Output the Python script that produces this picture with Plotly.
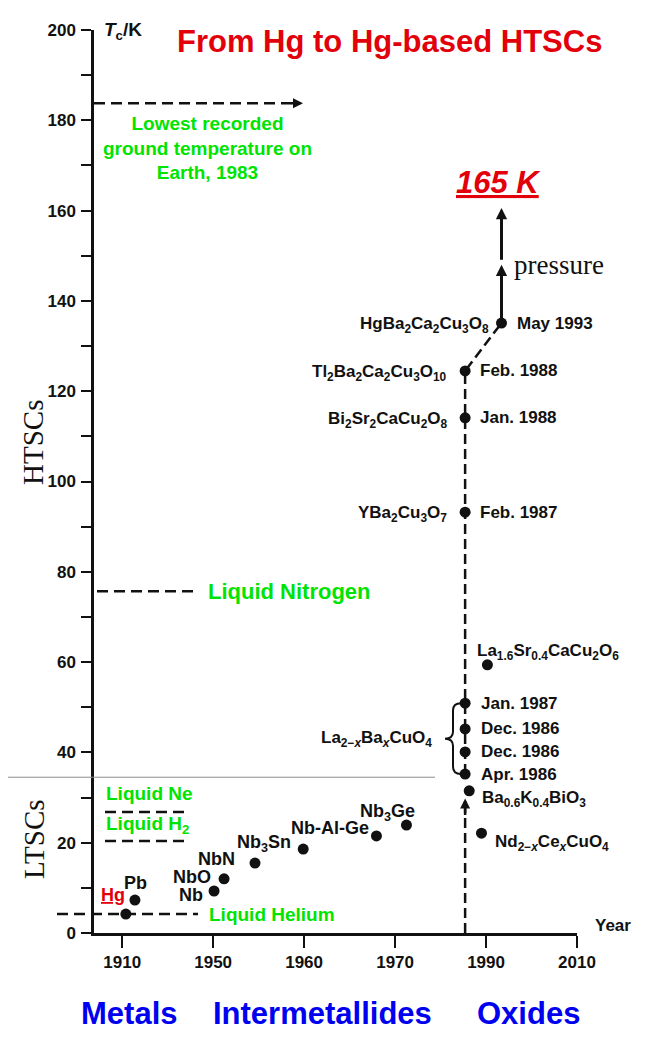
import plotly.graph_objects as go

# ---------------- data ----------------
metal_names = ["Hg", "Pb", "Nb", "NbO", "NbN", "Nb<sub>3</sub>Sn", "Nb-Al-Ge", "Nb<sub>3</sub>Ge"]
metal_year = [1910.8, 1912.8, 1930.2, 1932.4, 1939.2, 1949.8, 1965.9, 1972.5]
metal_tc = [4.2, 7.3, 9.3, 12.0, 15.5, 18.6, 21.5, 23.9]

la_formula = "La<sub>2\u2212<i>x</i></sub>Ba<sub><i>x</i></sub>CuO<sub>4</sub>"
la_dates = ["Apr. 1986", "Dec. 1986", "Dec. 1986", "Jan. 1987"]
la_year = [1985.4, 1985.4, 1985.4, 1985.4]
la_tc = [35.2, 40.1, 45.2, 50.9]

htsc_names = ["YBa<sub>2</sub>Cu<sub>3</sub>O<sub>7</sub>",
              "Bi<sub>2</sub>Sr<sub>2</sub>CaCu<sub>2</sub>O<sub>8</sub>",
              "Tl<sub>2</sub>Ba<sub>2</sub>Ca<sub>2</sub>Cu<sub>3</sub>O<sub>10</sub>",
              "HgBa<sub>2</sub>Ca<sub>2</sub>Cu<sub>3</sub>O<sub>8</sub>"]
htsc_dates = ["Feb. 1987", "Jan. 1988", "Feb. 1988", "May 1993"]
htsc_year = [1985.4, 1985.4, 1985.4, 1993.4]
htsc_tc = [93.2, 114.1, 124.5, 135.1]

other_names = ["Ba<sub>0.6</sub>K<sub>0.4</sub>BiO<sub>3</sub>",
               "Nd<sub>2\u2212<i>x</i></sub>Ce<sub><i>x</i></sub>CuO<sub>4</sub>",
               "La<sub>1.6</sub>Sr<sub>0.4</sub>CaCu<sub>2</sub>O<sub>6</sub>"]
other_year = [1986.3, 1989.0, 1990.3]
other_tc = [31.5, 22.1, 59.4]

ref_names = ["Lowest recorded<br>ground temperature on<br>Earth, 1983",
             "Liquid Nitrogen", "Liquid Ne", "Liquid H<sub>2</sub>", "Liquid Helium"]
ref_tc = [183.8, 75.7, 26.8, 20.4, 4.2]

pressure_tc = [148.0, 160.6]
record_label = "165 K"
oxide_arrow_tc = 29.8

year_ticks = [1910, 1930, 1950, 1970, 1990, 2010]
year_labels = ["1910", "1950", "1960", "1970", "1990", "2010"]
tc_ticks = list(range(0, 201, 20))
tc_range = [0, 200]
year_range = [1903.8, 2010]

classes = ["Metals", "Intermetallides", "Oxides"]

# ---------------- style ----------------
BODY = 8                      # default page margin of the html body
W, H = 655 - BODY, 1064 - BODY
PL, PR, PT, PB = 94, 577, 30, 933   # plot area in page pixels
ML, MT = PL - BODY, PT - BODY
MR, MB = W - (PR - BODY), H - (PB - BODY)
PW, PH = PR - PL, PB - PT
SANS = "Liberation Sans, Arial, sans-serif"
SERIF = "Liberation Serif, Times New Roman, serif"
RED = "#e2000a"
GREEN = "#00e400"
BLUE = "#0000f0"
BLACK = "#111111"


def px_paper(px):
    return (px - PL) / PW


def py_paper(py):
    return (PB - py) / PH


def px_year(px):
    return year_range[0] + (px - PL) * (year_range[1] - year_range[0]) / PW


fig = go.Figure()

# dashed evolution line through the oxides
fig.add_trace(go.Scatter(
    x=[la_year[0], htsc_year[2], htsc_year[3]],
    y=[la_tc[0], htsc_tc[2], htsc_tc[3]],
    mode="lines", line=dict(color=BLACK, width=2.5, dash="10px,5px"),
    hoverinfo="skip", showlegend=False))
fig.add_trace(go.Scatter(
    x=[la_year[0], la_year[0]], y=[tc_range[0], oxide_arrow_tc - 2],
    mode="lines", line=dict(color=BLACK, width=2.5, dash="10px,5px"),
    hoverinfo="skip", showlegend=False))

# all points
all_x = metal_year + la_year + htsc_year + other_year
all_y = metal_tc + la_tc + htsc_tc + other_tc
fig.add_trace(go.Scatter(
    x=all_x, y=all_y, mode="markers",
    marker=dict(color=BLACK, size=11), cliponaxis=False,
    hoverinfo="skip", showlegend=False))

shapes = []
ann = []

# reference (cryogen) dashed lines
ref_ext = [(PL, 292), (97, 193), (105, 185), (105, 185), (57, 198)]
for (a, b), tc in zip(ref_ext, ref_tc):
    shapes.append(dict(type="line", xref="paper", yref="y",
                       x0=px_paper(a), x1=px_paper(b), y0=tc, y1=tc,
                       line=dict(color=BLACK, width=2.5, dash="11px,6px")))
# arrowhead on the 184 K line
ann.append(dict(x=px_year(303), y=ref_tc[0], ax=px_year(290), ay=ref_tc[0],
                xref="x", yref="y", axref="x", ayref="y", text="",
                showarrow=True, arrowhead=2, arrowsize=0.8, arrowwidth=2.5,
                arrowcolor=BLACK, standoff=0))

# separator LTSC / HTSC
shapes.append(dict(type="line", xref="paper", yref="y",
                   x0=px_paper(0), x1=px_paper(435), y0=34.5, y1=34.5,
                   line=dict(color="#8c8c8c", width=1)))

# brace for La2-xBaxCuO4
r, m, l = px_year(461), px_year(453), px_year(445)
top, bot = la_tc[-1], la_tc[0]
mid = (top + bot) / 2
c = 1.6
shapes.append(dict(
    type="path", xref="x", yref="y",
    path=(f"M {r},{top} Q {m},{top} {m},{top - c} L {m},{mid + c} "
          f"Q {m},{mid} {l},{mid} Q {m},{mid} {m},{mid - c} "
          f"L {m},{bot + c} Q {m},{bot} {r},{bot}"),
    line=dict(color=BLACK, width=2)))

# green cryogen labels
green = dict(family=SANS, color=GREEN, weight="bold")
ann.append(dict(x=px_paper(207), y=173.9, xref="paper", yref="y",
                text=ref_names[0], showarrow=False, align="center",
                xanchor="center", yanchor="middle",
                font=dict(size=19, **green)))
ann.append(dict(x=px_paper(206), y=ref_tc[1], xref="paper", yref="y",
                text=ref_names[1], showarrow=False, xanchor="left", yanchor="middle",
                font=dict(size=22, **green)))
ann.append(dict(x=px_paper(104), y=ref_tc[2], xref="paper", yref="y", yshift=19,
                text=ref_names[2], showarrow=False, xanchor="left", yanchor="middle",
                font=dict(size=19, **green)))
ann.append(dict(x=px_paper(104), y=ref_tc[3], xref="paper", yref="y", yshift=16,
                text=ref_names[3], showarrow=False, xanchor="left", yanchor="middle",
                font=dict(size=19, **green)))
ann.append(dict(x=px_paper(207), y=ref_tc[4], xref="paper", yref="y",
                text=ref_names[4], showarrow=False, xanchor="left", yanchor="middle",
                font=dict(size=19, **green)))

# metal / intermetallic labels
blk = dict(family=SANS, color=BLACK, weight="bold")
metal_off = [("center", -13, 19), ("center", 1, 17), ("right", -9, -4),
             ("right", -11, 2), ("right", -18, 4), ("right", -10, 6),
             ("right", -5, 8), ("center", -19, 13)]
for i, (nm, xv, yv) in enumerate(zip(metal_names, metal_year, metal_tc)):
    xa, xs, ys = metal_off[i]
    txt = f"<u>{nm}</u>" if nm == "Hg" else nm
    col = RED if nm == "Hg" else BLACK
    ann.append(dict(x=xv, y=yv, xref="x", yref="y", text=txt, showarrow=False,
                    xanchor=xa, yanchor="middle", xshift=xs, yshift=ys,
                    font=dict(size=18, family=SANS, color=col, weight="bold")))

# La2-xBaxCuO4 group
for d, xv, yv in zip(la_dates, la_year, la_tc):
    ann.append(dict(x=xv, y=yv, xref="x", yref="y", text=d, showarrow=False,
                    xanchor="left", yanchor="middle", xshift=14,
                    font=dict(size=17, **blk)))
ann.append(dict(x=px_year(434), y=mid, xref="x", yref="y", text=la_formula,
                showarrow=False, xanchor="right", yanchor="middle",
                font=dict(size=17, **blk)))

# HTSC formulas and dates
for i, (nm, d, xv, yv) in enumerate(zip(htsc_names, htsc_dates, htsc_year, htsc_tc)):
    lx = -11 if i == 3 else -16
    ann.append(dict(x=xv, y=yv, xref="x", yref="y", text=nm, showarrow=False,
                    xanchor="right", yanchor="middle", xshift=lx, yshift=-2,
                    font=dict(size=17, **blk)))
    ann.append(dict(x=xv, y=yv, xref="x", yref="y", text=d, showarrow=False,
                    xanchor="left", yanchor="middle", xshift=13,
                    font=dict(size=17, **blk)))

# other oxides
other_off = [("left", 11, -8), ("left", 12, -10), ("left", -12, 13)]
for (xa, xs, ys), nm, xv, yv in zip(other_off, other_names, other_year, other_tc):
    ann.append(dict(x=xv, y=yv, xref="x", yref="y", text=nm, showarrow=False,
                    xanchor=xa, yanchor="middle", xshift=xs, yshift=ys,
                    font=dict(size=17, **blk)))

# arrow into Ba0.6K0.4BiO3
ann.append(dict(x=la_year[0], y=oxide_arrow_tc, ax=la_year[0], ay=oxide_arrow_tc - 4,
                xref="x", yref="y", axref="x", ayref="y", text="", showarrow=True,
                arrowhead=2, arrowsize=0.8, arrowwidth=2.5, arrowcolor=BLACK, standoff=0))

# pressure arrows
starts = [htsc_tc[3], pressure_tc[0] + 0.8]
for s, e in zip(starts, pressure_tc):
    ann.append(dict(x=htsc_year[3], y=e, ax=htsc_year[3], ay=s,
                    xref="x", yref="y", axref="x", ayref="y", text="",
                    showarrow=True, arrowhead=2, arrowsize=0.75, arrowwidth=3,
                    arrowcolor=BLACK, standoff=0, startstandoff=0))
ann.append(dict(x=htsc_year[3], y=pressure_tc[0], xref="x", yref="y", text="pressure",
                showarrow=False, xanchor="left", yanchor="middle", xshift=10,
                font=dict(size=27, family=SERIF, color=BLACK)))
ann.append(dict(x=htsc_year[3], y=pressure_tc[1], xref="x", yref="y",
                text=f"<u><i>{record_label}</i></u>", showarrow=False,
                xanchor="center", yanchor="middle", yshift=25, xshift=-3,
                font=dict(size=31, family=SANS, color=RED, weight="bold")))


# axis / frame texts
def frame_text(text, px, py, font, angle=0, xanchor="center"):
    ann.append(dict(x=px_paper(px), y=py_paper(py), xref="paper", yref="paper",
                    text=text, showarrow=False, textangle=angle,
                    xanchor=xanchor, yanchor="middle", font=font))


frame_text("From Hg to Hg-based HTSCs", 389, 41,
           dict(size=31, family=SANS, color=RED, weight="bold"))
frame_text("<i>T</i><sub>c</sub>/K", 102, 31,
           dict(size=19, family=SANS, color=BLACK, weight="bold"), xanchor="left")
frame_text("HTSCs", 33, 443, dict(size=29, family=SERIF, color=BLACK), angle=-90)
frame_text("LTSCs", 34, 839, dict(size=29, family=SERIF, color=BLACK), angle=-90)
frame_text("Year", 613, 925, dict(size=17, family=SANS, color=BLACK, weight="bold"))
for name, cx in zip(classes, [129, 322, 528]):
    frame_text(name, cx, 1013, dict(size=31, family=SANS, color=BLUE, weight="bold"))

fig.update_layout(
    width=W, height=H, autosize=False,
    margin=dict(l=ML, r=MR, t=MT, b=MB, pad=0),
    paper_bgcolor="white", plot_bgcolor="white",
    showlegend=False, hovermode=False,
    shapes=shapes, annotations=ann,
    xaxis=dict(range=year_range, showgrid=False, zeroline=False,
               showline=True, linecolor=BLACK, linewidth=2.5,
               ticks="outside", ticklen=12, tickwidth=2, tickcolor=BLACK,
               tickvals=year_ticks, ticktext=year_labels,
               tickfont=dict(size=17, family=SANS, color=BLACK, weight="bold")),
    yaxis=dict(range=tc_range, showgrid=False, zeroline=False,
               showline=True, linecolor=BLACK, linewidth=2.5,
               ticks="outside", ticklen=10, tickwidth=2, tickcolor=BLACK,
               tickvals=tc_ticks, ticklabelstandoff=2,
               minor=dict(dtick=10, ticks="outside", ticklen=10, tickwidth=2,
                          tickcolor=BLACK),
               tickfont=dict(size=17, family=SANS, color=BLACK, weight="bold")),
)

fig.write_html("out.html")
